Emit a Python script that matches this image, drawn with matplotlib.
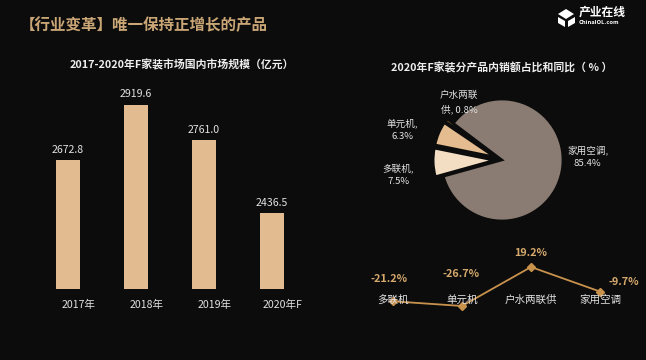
import numpy as np
import matplotlib
matplotlib.use("Agg")
import matplotlib.pyplot as plt
from matplotlib.patches import Polygon
import matplotlib.transforms as mtransforms

plt.rcParams['font.family'] = ['Noto Sans CJK SC', 'DejaVu Sans']

# ---------------- data ----------------
main_title = "【行业变革】唯一保持正增长的产品"
bar_title = "2017-2020年F家装市场国内市场规模（亿元）"
years = ["2017年", "2018年", "2019年", "2020年F"]
market_size = [2672.8, 2919.6, 2761.0, 2436.5]

pie_title = "2020年F家装分产品内销额占比和同比（ % ）"
pie_products = ["户水两联供", "单元机", "多联机", "家用空调"]
pie_labels = ["户水两联\n供, 0.8%", "单元机,\n6.3%", "多联机,\n7.5%", "家用空调,\n85.4%"]
pie_share = [0.8, 6.3, 7.5, 85.4]

yoy_products = ["多联机", "单元机", "户水两联供", "家用空调"]
yoy_growth = [-21.2, -26.7, 19.2, -9.7]

# ---------------- style ----------------
W, H = 646, 360
BG = "#0c0c0c"
BAR_C = "#e2bb91"
PIE_C = ["#c98b45", "#e4bc8f", "#f3dec3", "#8a7c72"]
LINE_C = "#c8924c"
GOLD = "#d6a96c"
TXT = "#e2e2e2"

fig = plt.figure(figsize=(W / 100, H / 100), dpi=100)
fig.patch.set_facecolor(BG)


def px_axes(x0, y0, x1, y1):
    """axes from pixel box (top-left origin)"""
    return fig.add_axes([x0 / W, 1 - y1 / H, (x1 - x0) / W, (y1 - y0) / H])


# ---------------- headline + logo ----------------
fig.text(20 / W, 1 - 25 / H, main_title, color="#caa676", fontsize=11.2,
         fontweight="bold", va="center", ha="left")
fig.text(579 / W, 1 - 12 / H, "产业在线", color="white", fontsize=8.5,
         fontweight="bold", va="center", ha="left")
fig.text(579 / W, 1 - 22 / H, "ChinaIOL.com", color="white", fontsize=4.2,
         fontweight="bold", va="center", ha="left")
icon = [
    [(558, 14), (566, 9), (574, 14), (566, 19)],
    [(558, 17), (565, 21), (565, 27), (558, 23)],
    [(568, 21), (575, 17), (575, 23), (568, 27)],
]
for poly in icon:
    fig.patches.append(Polygon([(x / W, 1 - y / H) for x, y in poly], closed=True,
                               transform=fig.transFigure, facecolor="white",
                               edgecolor="none"))

# ---------------- bar chart ----------------
axb = px_axes(34, 80, 306, 289)
axb.set_facecolor("none")
xb = np.arange(len(years))
axb.bar(xb, market_size, width=0.35, color=BAR_C, zorder=2)
axb.set_xlim(-0.5, len(years) - 0.5)
axb.set_ylim(2100, 3030)
for x, v in zip(xb, market_size):
    axb.annotate(f"{v:.1f}", (x, v), xytext=(0, 4), textcoords="offset points",
                 ha="center", va="bottom", color=TXT, fontsize=7.6)
lab_tr = axb.get_xaxis_transform() + mtransforms.ScaledTranslation(11 / 100, 0, fig.dpi_scale_trans)
for x, t in zip(xb, years):
    axb.text(x, -0.075, t, transform=lab_tr, ha="center", va="center",
             color=TXT, fontsize=7.6)
axb.axis("off")
fig.text(182 / W, 1 - 65 / H, bar_title, color="#eeeeee", fontsize=7.8,
         fontweight="bold", ha="center", va="center")

# ---------------- pie chart ----------------
axp = px_axes(432, 90, 572, 230)
axp.set_facecolor("none")
explode = [0.13, 0.13, 0.13, 0.0]
wedges, _ = axp.pie(pie_share, colors=PIE_C, startangle=143, counterclock=True,
                    explode=explode, radius=1.0,
                    wedgeprops=dict(edgecolor=BG, linewidth=1.8))
axp.set_xlim(-1.15, 1.15)
axp.set_ylim(-1.15, 1.15)
axp.set_aspect("equal")
# (angle shift in degrees, radius) per label
label_place = [(-18, 1.18), (6, 1.71), (6, 1.72), (13, 1.41)]
for w, lab, (da, r) in zip(wedges, pie_labels, label_place):
    mid = np.deg2rad((w.theta1 + w.theta2) / 2 + da)
    axp.text(r * np.cos(mid), r * np.sin(mid), lab, ha="center", va="center",
             color=TXT, fontsize=6.9, linespacing=1.6)
axp.axis("off")
fig.text(502 / W, 1 - 68 / H, pie_title, color="#eeeeee", fontsize=7.8,
         fontweight="bold", ha="center", va="center")

# ---------------- growth line ----------------
axl = px_axes(358.5, 245, 634.5, 320)
axl.set_facecolor("none")
xl = np.arange(len(yoy_products))
axl.plot(xl, yoy_growth, color=LINE_C, lw=1.3, marker="D", markersize=4,
         markerfacecolor=LINE_C, markeredgecolor=LINE_C, zorder=3)
axl.set_xlim(-0.5, len(yoy_products) - 0.5)
axl.set_ylim(-43.2, 45.1)
val_off = [(-3, 16), (-1, 23), (0, 10), (17, 7)]
for x, v, (dx, dy) in zip(xl, yoy_growth, val_off):
    axl.annotate(f"{v:.1f}%", (x, v), xytext=(dx, dy), textcoords="offset points",
                 ha="center", va="center", color=GOLD, fontsize=7.8,
                 fontweight="bold")
for x, t in zip(xl, yoy_products):
    axl.text(x, 0.267, t, transform=axl.get_xaxis_transform(), ha="center",
             va="center", color=TXT, fontsize=7.6, zorder=4)
axl.axis("off")

fig.savefig("out.png", dpi=100, facecolor=BG)
